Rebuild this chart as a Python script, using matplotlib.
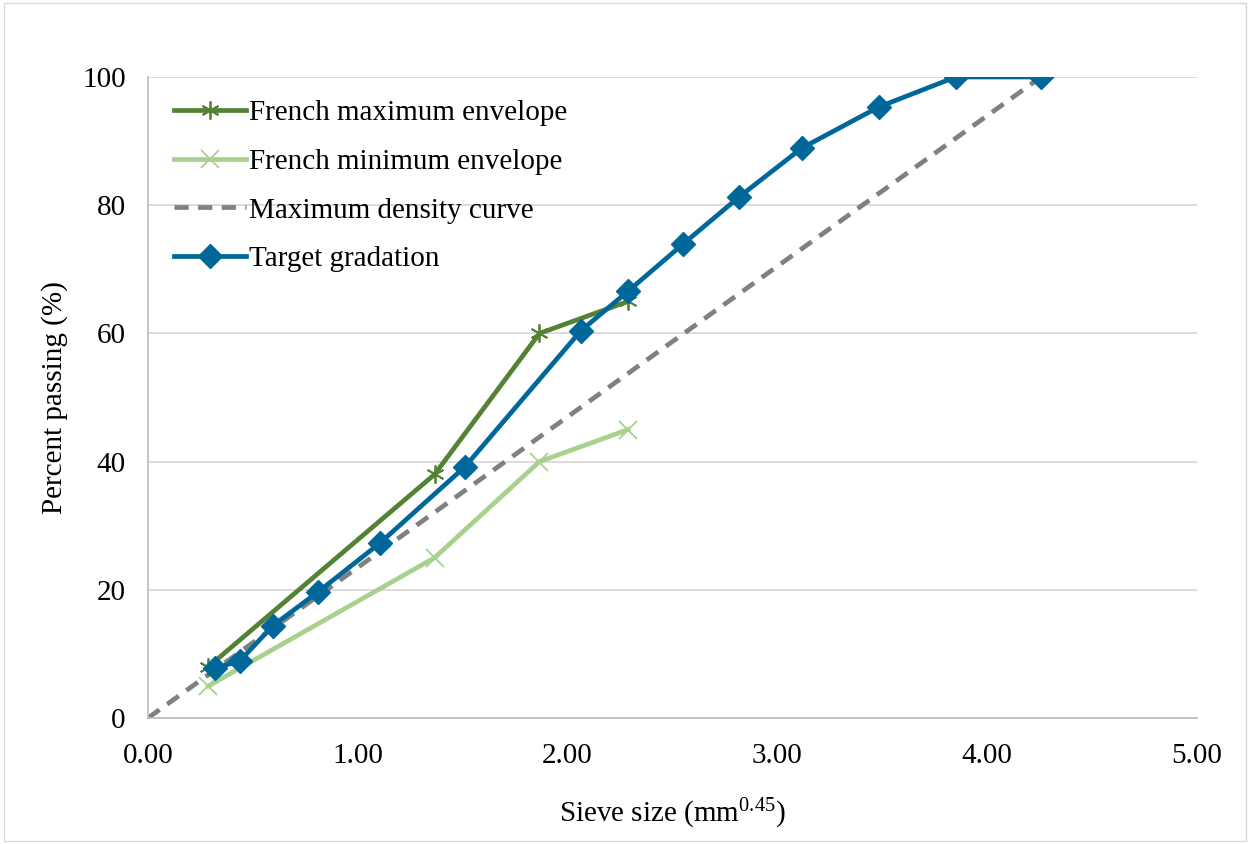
import matplotlib
matplotlib.use("Agg")
import matplotlib.pyplot as plt
from matplotlib.patches import Rectangle

plt.rcParams['font.family'] = ['Liberation Serif', 'DejaVu Serif']
plt.rcParams['mathtext.fontset'] = 'custom'
plt.rcParams['mathtext.rm'] = 'Liberation Serif'
plt.rcParams['mathtext.it'] = 'Liberation Serif:italic'

# Sieve sizes in mm^0.45
target_x = [0.321, 0.438, 0.595, 0.812, 1.106, 1.511, 2.063, 2.289, 2.549, 2.818, 3.116, 3.482, 3.850, 4.257]
target_y = [7.8, 8.9, 14.4, 19.7, 27.3, 39.2, 60.4, 66.6, 73.9, 81.3, 88.9, 95.3, 100, 100]

fmax_x = [0.288, 1.366, 1.866, 2.289]
fmax_y = [8, 38, 60, 65]

fmin_x = [0.288, 1.366, 1.866, 2.289]
fmin_y = [5, 25, 40, 45]

mdc_x = [0.0, 4.257]
mdc_y = [0, 100]

fig = plt.figure(figsize=(12.5, 8.44), dpi=100)
ax = fig.add_axes([0.1184, 0.1493, 0.8392, 0.7595])

fig.patches.append(Rectangle((0.003, 0.003), 0.994, 0.994, transform=fig.transFigure,
                             fill=False, edgecolor='#d9d9d9', linewidth=1.0))

ax.plot(fmax_x, fmax_y, color='#548235', lw=3.4, marker=(6, 2, 0), ms=13, mew=1.3,
        label='French maximum envelope', zorder=3)
ax.plot(fmin_x, fmin_y, color='#a9d18e', lw=3.4, marker='x', ms=13, mew=1.3,
        label='French minimum envelope', zorder=3)
ax.plot(mdc_x, mdc_y, color='#808080', lw=3.4, ls=(0, (3, 2)),
        label='Maximum density curve', zorder=2)
ax.plot(target_x, target_y, color='#00679a', lw=3.4, marker='D', ms=12,
        label='Target gradation', zorder=4)

ax.set_xlim(0, 5)
ax.set_ylim(0, 100)
ax.set_xticks([0, 1, 2, 3, 4, 5])
ax.set_xticklabels(['0.00', '1.00', '2.00', '3.00', '4.00', '5.00'])
ax.set_yticks([0, 20, 40, 60, 80, 100])
ax.grid(axis='y', color='#d9d9d9', lw=1.3)
ax.set_axisbelow(True)
for s in ['top', 'right']:
    ax.spines[s].set_visible(False)
for s in ['left', 'bottom']:
    ax.spines[s].set_color('#bfbfbf')
    ax.spines[s].set_linewidth(1.3)
ax.tick_params(axis='x', length=0, labelsize=21, pad=18)
ax.tick_params(axis='y', length=0, labelsize=21, pad=16)
ax.set_xlabel('Sieve size (mm$^{\\mathrm{0.45}}$)', fontsize=21, labelpad=20)
ax.set_ylabel('Percent passing (%)', fontsize=21, labelpad=10)

ax.legend(loc='upper left', bbox_to_anchor=(0.0, 1.005), frameon=False, fontsize=21,
          handlelength=2.45, handletextpad=0.12, labelspacing=0.76, borderaxespad=0.5)

fig.savefig('out.png', dpi=100)
